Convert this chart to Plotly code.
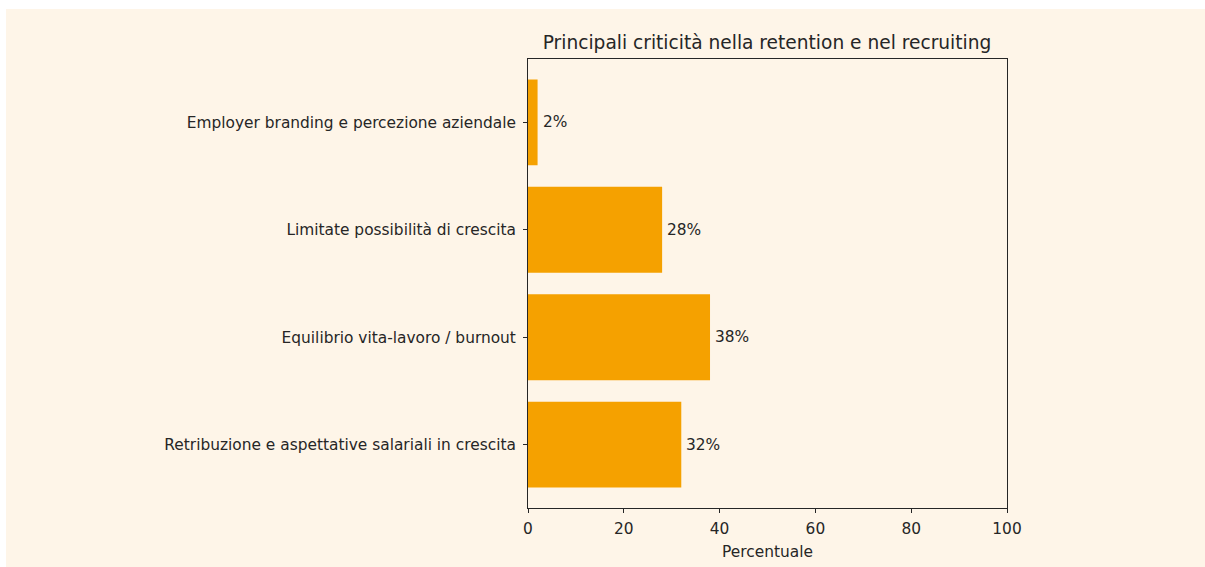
import plotly.graph_objects as go

# Survey results: main challenges in retention and recruiting
categorie = [
    "Retribuzione e aspettative salariali in crescita",
    "Equilibrio vita-lavoro / burnout",
    "Limitate possibilità di crescita",
    "Employer branding e percezione aziendale",
]
percentuali = [32, 38, 28, 2]
x_ticks = [0, 20, 40, 60, 80, 100]

BG = "#FEF5E8"
BAR = "#F5A100"
INK = "#262626"
FONT = "DejaVu Sans"
FS = 15.4

pos = list(range(len(categorie)))

fig = go.Figure(
    go.Bar(
        x=percentuali,
        y=pos,
        orientation="h",
        width=0.8,
        marker=dict(color=BAR, line=dict(width=0)),
        hoverinfo="skip",
    )
)

# value labels to the right of each bar
for p, v in zip(pos, percentuali):
    fig.add_annotation(
        x=v, y=p, text=f"{v}%", showarrow=False,
        xanchor="left", yanchor="middle", xshift=3,
        font=dict(family=FONT, size=FS, color=INK),
    )

W, H = 1205, 567
L, R, T, B = 528, 198, 59, 59
pw, ph = W - L - R, H - T - B

# beige card behind the whole chart
fig.add_shape(
    type="rect", xref="paper", yref="paper", layer="below",
    x0=(6 - L) / pw, x1=(W - L) / pw,
    y0=-(H - (T + ph)) / ph, y1=(T - 9) / ph + 1,
    fillcolor=BG, line=dict(width=0),
)

axis_line = dict(showline=True, linecolor=INK, linewidth=1, mirror=True)

fig.update_layout(
    width=W, height=H,
    margin=dict(l=L, r=R, t=T, b=B, pad=0, autoexpand=False),
    paper_bgcolor="white",
    plot_bgcolor=BG,
    showlegend=False,
    font=dict(family=FONT, size=FS, color=INK),
    title=dict(
        text="Principali criticità nella retention e nel recruiting",
        x=767 / W, xanchor="center",
        y=1 - 42 / H, yanchor="middle",
        font=dict(family=FONT, size=18.6, color=INK),
    ),
    xaxis=dict(
        range=[0, 100], tickvals=x_ticks, ticks="outside", ticklen=4,
        tickcolor=INK, showgrid=False, zeroline=False, automargin=False,
        ticklabelstandoff=3,
        tickfont=dict(family=FONT, size=FS, color=INK),
        title=dict(text="Percentuale", standoff=8,
                   font=dict(family=FONT, size=FS, color=INK)),
        **axis_line,
    ),
    yaxis=dict(
        range=[-0.59, 3.59], tickvals=pos, ticktext=categorie,
        ticks="outside", ticklen=4, tickcolor=INK, showgrid=False,
        zeroline=False, automargin=False, ticklabelstandoff=4,
        tickfont=dict(family=FONT, size=FS, color=INK),
        **axis_line,
    ),
)

fig.write_html("out.html")
